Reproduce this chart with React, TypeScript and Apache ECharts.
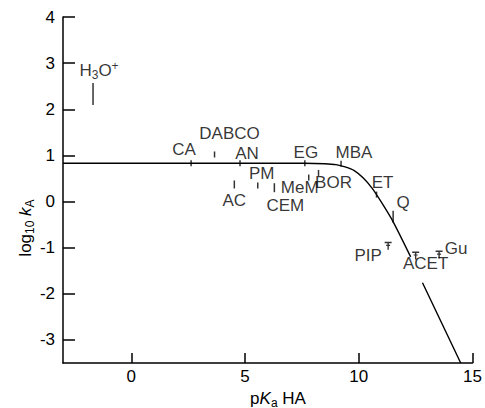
import React, { useEffect, useRef } from "react";
import * as echarts from "echarts";

// ---- data ----
// "-" marks the gap where the curve is interrupted by the ACET label
const curvePKa = [-3, 7.6, 8.5, 9.0, 9.4, 9.8, 10.2, 10.6, 11.0, 11.5, 12.28, "-", 12.8, 14.48];
const curveLogK = [0.83, 0.83, 0.82, 0.8, 0.75, 0.67, 0.51, 0.28, -0.02, -0.43, -1.2, "-", -1.76, -3.5];

const pointNames = ["H3O+", "CA", "DABCO", "AN", "AC", "PM", "CEM", "EG", "MeM", "BOR", "MBA", "ET", "Q", "PIP", "ACET", "Gu"];
const pointPKa = [-1.68, 2.63, 3.66, 4.78, 4.53, 5.56, 6.29, 7.63, 7.8, 8.23, 9.22, 10.78, 11.51, 11.29, 12.5, 13.53];
const pointLogK = [2.33, 0.83, 1.02, 0.83, 0.37, 0.35, 0.3, 0.83, 0.52, 0.62, 0.82, 0.15, -0.33, -0.96, -1.17, -1.15];

const xTicks = [0, 5, 10, 15];
const yTicks = [-3, -2, -1, 0, 1, 2, 3, 4];

// ---- styling (not data) ----
const FONT = "'Liberation Sans', Arial, sans-serif";
const INK = "#000";
const FS = 17;
const T_SYMBOL = "path://M0,0H7V1.6H0Z M2.8,1.6H4.2V9H2.8Z M1.5,3.4H5.5V4.6H1.5Z";

const markStyle: Record<string, { h: number; t?: boolean; off: [number, number]; text?: string }> = {
  "H3O+": { h: 22, off: [6, -24], text: "H{s|3}O{p|+}" },
  CA: { h: 6, off: [-7, -14] },
  DABCO: { h: 6, off: [15, -21] },
  AN: { h: 6, off: [7, -10] },
  AC: { h: 8, off: [0, 16] },
  PM: { h: 6, off: [4, -12] },
  CEM: { h: 9, off: [11, 18] },
  EG: { h: 6, off: [1, -11] },
  MeM: { h: 6, off: [-9, 10] },
  BOR: { h: 6, off: [15, 10] },
  MBA: { h: 6, off: [13, -11] },
  ET: { h: 6, off: [6, -12] },
  Q: { h: 12, off: [10, -14] },
  PIP: { h: 8, t: true, off: [-20, 10] },
  ACET: { h: 8, t: true, off: [10, 8] },
  Gu: { h: 8, t: true, off: [17, -6] },
};

const rich = {
  s: { fontSize: 12, fontFamily: FONT, color: INK, padding: [9, 0, 0, 0] },
  p: { fontSize: 12, fontFamily: FONT, color: INK, padding: [0, 0, 9, 0] },
  i: { fontSize: FS, fontFamily: FONT, color: INK, fontStyle: "italic" },
};

export default function App() {
  const ref = useRef<HTMLDivElement>(null);

  useEffect(() => {
    if (!ref.current) return;
    const chart = echarts.init(ref.current, undefined, { renderer: "svg" });

    const curveData = curvePKa.map((x, i) => (x === "-" ? "-" : [x, curveLogK[i]]));
    const pointData = pointNames.map((name, i) => {
      const st = markStyle[name];
      return {
        name,
        value: [pointPKa[i], pointLogK[i]],
        symbol: st.t ? T_SYMBOL : "rect",
        symbolSize: st.t ? [7, st.h] : [1.5, st.h],
        label: {
          show: true,
          position: "inside",
          offset: st.off,
          formatter: st.text ?? name,
          color: INK,
        },
      };
    });

    chart.setOption({
      animation: false,
      backgroundColor: "#fff",
      grid: { left: 63, right: 6, top: 17, bottom: 45 },
      xAxis: {
        type: "value",
        min: -3,
        max: 15,
        axisLine: { show: true, onZero: false, lineStyle: { color: INK, width: 1.5 } },
        axisTick: { show: true, inside: true, length: 10, customValues: xTicks, lineStyle: { color: INK, width: 1.5 } },
        axisLabel: { show: true, customValues: xTicks, margin: 5, fontSize: FS, fontFamily: FONT, color: INK },
        splitLine: { show: false },
      },
      yAxis: {
        type: "value",
        min: -3.5,
        max: 4,
        axisLine: { show: true, onZero: false, lineStyle: { color: INK, width: 1.5 } },
        axisTick: { show: true, inside: true, length: 12, customValues: yTicks, lineStyle: { color: INK, width: 1.5 } },
        axisLabel: { show: true, customValues: yTicks, margin: 8, fontSize: FS, fontFamily: FONT, color: INK },
        splitLine: { show: false },
      },
      series: [
        {
          type: "line",
          data: curveData,
          showSymbol: false,
          symbol: "none",
          smooth: 0.25,
          connectNulls: false,
          lineStyle: { color: INK, width: 1.4 },
          clip: true,
          z: 2,
        },
        {
          type: "scatter",
          data: pointData,
          itemStyle: { color: INK },
          label: {
            fontSize: FS,
            lineHeight: 14,
            fontFamily: FONT,
            color: INK,
            rich,
          },
          z: 5,
        },
      ],
      graphic: [
        {
          type: "text",
          x: 25,
          y: 228,
          rotation: Math.PI / 2,
          style: {
            text: "log{s|10} {i|k}{s|A}",
            fontSize: FS,
            fontFamily: FONT,
            fill: INK,
            align: "center",
            verticalAlign: "middle",
            rich,
          },
        },
        {
          type: "text",
          x: 278,
          y: 398,
          style: {
            text: "p{i|K}{s|a} HA",
            fontSize: FS,
            fontFamily: FONT,
            fill: INK,
            align: "center",
            verticalAlign: "middle",
            rich,
          },
        },
      ],
    });

    return () => chart.dispose();
  }, []);

  return <div ref={ref} style={{ width: 485, height: 408, position: "absolute", left: 0, top: 0 }} />;
}
